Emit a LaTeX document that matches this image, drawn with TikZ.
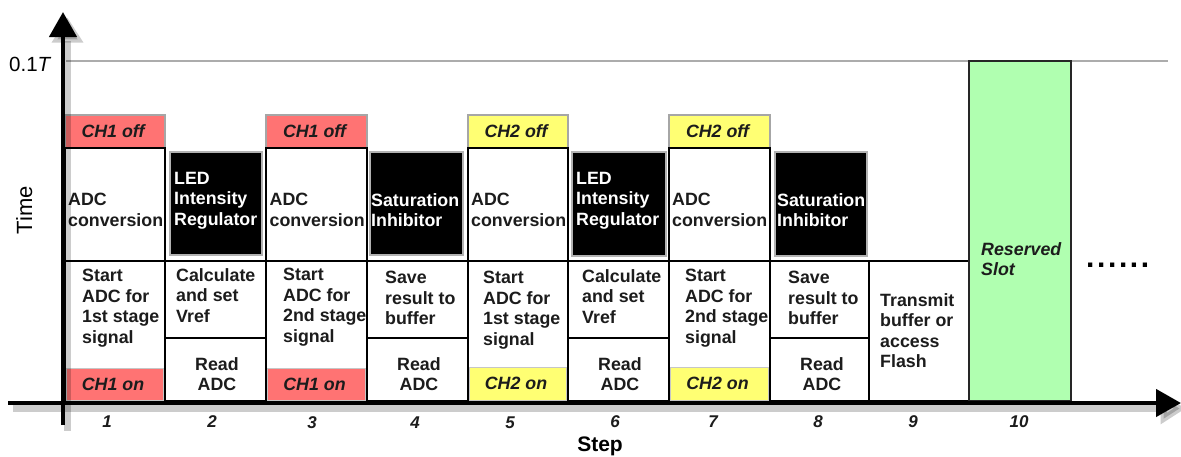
\documentclass[tikz,border=0pt]{standalone}
\usepackage{fontspec}
\setmainfont{Liberation Sans}
\usetikzlibrary{fit,arrows.meta}
\definecolor{chred}{RGB}{255,115,115}
\definecolor{chyel}{RGB}{255,255,115}
\definecolor{slotgreen}{RGB}{176,255,176}
\definecolor{txtgray}{RGB}{28,28,28}
\begin{document}
\begin{tikzpicture}[x=1pt,y=-1pt,
  cellbox/.style={draw=black, line width=2.8pt, fill=white, inner sep=0pt},
  offbox/.style={draw=gray!70, line width=1.5pt, inner sep=0pt},
  onbox/.style={draw=gray!45, line width=1pt, inner sep=0pt},
  blkbox/.style={draw=gray!60, fill=black, line width=1.5pt, inner sep=0pt},
  slotbox/.style={draw=black!85, fill=slotgreen, line width=2.5pt, inner sep=0pt},
  txt/.style={inner sep=0pt, align=left, text=txtgray, anchor=north west,
    font=\fontsize{17.8}{20.5}\selectfont\bfseries},
  wtxt/.style={txt, text=white},
  ctxt/.style={txt, align=center, anchor=north},
  chtxt/.style={inner sep=0pt, text=txtgray, font=\fontsize{17.8}{20.5}\selectfont\bfseries\itshape},
  steptxt/.style={inner sep=0pt, text=txtgray, font=\fontsize{17}{19}\selectfont\bfseries\itshape},
  axis/.style={line width=4.5pt, black, -{Triangle[length=25pt,width=27pt]}},
  axshadow/.style={line width=7pt, black, opacity=0.2, -{Triangle[length=25pt,width=30pt]}},
  tline/.style={line width=2.2pt, gray!65},
]
\useasboundingbox (0,0) rectangle (1181,456);

% 0.1T reference line
\coordinate (tl) at (66,61);
\coordinate (tr) at (1168,61);
\draw[tline] (tl) -- (tr);

% CH off boxes
\node[offbox, fill=chred, fit={(65,115) (165,148)}] (off1) {};
\node[offbox, fill=chred, fit={(266,115) (367,148)}] (off3) {};
\node[offbox, fill=chyel, fit={(468,115) (568,148)}] (off5) {};
\node[offbox, fill=chyel, fit={(669,115) (770,148)}] (off7) {};

% ADC conversion boxes
\node[cellbox, fit={(65,148) (165,261)}] (adc1) {};
\node[cellbox, fit={(266,148) (367,261)}] (adc3) {};
\node[cellbox, fit={(468,148) (568,261)}] (adc5) {};
\node[cellbox, fit={(669,148) (770,261)}] (adc7) {};

% Start ADC boxes
\node[cellbox, fit={(65,261) (165,401)}] (start1) {};
\node[cellbox, fit={(266,261) (367,401)}] (start3) {};
\node[cellbox, fit={(468,261) (568,401)}] (start5) {};
\node[cellbox, fit={(669,261) (770,401)}] (start7) {};

% CH on fills
\node[onbox, fill=chred, fit={(66.5,368) (163.5,400)}] (on1) {};
\node[onbox, fill=chred, fit={(267.5,368) (365.5,400)}] (on3) {};
\node[onbox, fill=chyel, fit={(469.5,367) (566.5,400)}] (on5) {};
\node[onbox, fill=chyel, fit={(670.5,367) (768.5,400)}] (on7) {};

% Calculate / Save boxes
\node[cellbox, fit={(165,261) (266,338)}] (calc2) {};
\node[cellbox, fit={(367,261) (468,338)}] (save4) {};
\node[cellbox, fit={(568,261) (669,338)}] (calc6) {};
\node[cellbox, fit={(770,261) (869,338)}] (save8) {};

% Read ADC boxes
\node[cellbox, fit={(165,338) (266,401)}] (read2) {};
\node[cellbox, fit={(367,338) (468,401)}] (read4) {};
\node[cellbox, fit={(568,338) (669,401)}] (read6) {};
\node[cellbox, fit={(770,338) (869,401)}] (read8) {};

% Transmit box
\node[cellbox, fit={(869,261) (969,401)}] (trans9) {};

% Black boxes
\node[blkbox, fit={(170,152) (262,255)}] (led2) {};
\node[blkbox, fit={(370,152) (463,255)}] (sat4) {};
\node[blkbox, fit={(572,152) (666,256)}] (led6) {};
\node[blkbox, fit={(775,152) (867,256)}] (sat8) {};

% Reserved slot
\node[slotbox, fit={(969,61) (1071,401)}] (slot10) {};

% Texts
\node[chtxt] (toff1) at ([xshift=-2pt]off1.center) {CH1 off};
\node[chtxt] (toff3) at ([xshift=-2pt]off3.center) {CH1 off};
\node[chtxt] (toff5) at ([xshift=-2pt]off5.center) {CH2 off};
\node[chtxt] (toff7) at ([xshift=-2pt]off7.center) {CH2 off};

\node[chtxt] (ton1) at ([xshift=-2pt]on1.center) {CH1 on};
\node[chtxt] (ton3) at ([xshift=-2pt]on3.center) {CH1 on};
\node[chtxt] (ton5) at ([xshift=-2pt]on5.center) {CH2 on};
\node[chtxt] (ton7) at ([xshift=-2pt]on7.center) {CH2 on};

\node[txt] (tadc1) at (68,193) {ADC\\conversion};
\node[txt] (tadc3) at (269.5,193) {ADC\\conversion};
\node[txt] (tadc5) at (471,193) {ADC\\conversion};
\node[txt] (tadc7) at (672,193) {ADC\\conversion};

\node[txt] (tstart1) at (82,269) {Start\\ADC for\\1st stage\\signal};
\node[txt] (tstart3) at (283,268) {Start\\ADC for\\2nd stage\\signal};
\node[txt] (tstart5) at (483,271) {Start\\ADC for\\1st stage\\signal};
\node[txt] (tstart7) at (685,269) {Start\\ADC for\\2nd stage\\signal};

\node[wtxt] (tled2) at (174,172) {LED\\Intensity\\Regulator};
\node[wtxt] (tsat4) at (371,193) {Saturation\\Inhibitor};
\node[wtxt] (tled6) at (576,172) {LED\\Intensity\\Regulator};
\node[wtxt] (tsat8) at (777,193) {Saturation\\Inhibitor};

\node[txt] (tcalc2) at (176,268) {Calculate\\and set\\Vref};
\node[txt] (tsave4) at (385,271) {Save\\result to\\buffer};
\node[txt] (tcalc6) at (582,269) {Calculate\\and set\\Vref};
\node[txt] (tsave8) at (788,271) {Save\\result to\\buffer};

\node[ctxt] (tread2) at (217,357) {Read\\ADC};
\node[ctxt] (tread4) at (419,357) {Read\\ADC};
\node[ctxt] (tread6) at (620,357) {Read\\ADC};
\node[ctxt] (tread8) at (822,357) {Read\\ADC};

\node[txt] (ttrans9) at (880,293) {Transmit\\buffer or\\access\\Flash};

\node[txt, font=\fontsize{17.8}{20.5}\selectfont\bfseries\itshape] (tslot) at (981,242) {Reserved\\Slot};

\node[inner sep=0pt, anchor=base west, text=black,
  font=\fontsize{30}{30}\selectfont\bfseries] (dots) at (1086,267)
  {.\kern2.6pt.\kern2.6pt.\kern2.6pt.\kern2.6pt.\kern2.6pt.};

% Axes shadows
\coordinate (ybot) at (63,425);
\coordinate (ytop) at (63,12);
\coordinate (xleft) at (8,403);
\coordinate (xright) at (1181,403);
\begin{scope}[transform canvas={shift={(4.5pt,-5.5pt)}}]
\draw[axshadow] (ybot) -- (ytop);
\draw[axshadow] (xleft) -- (xright);
\end{scope}

% Axes
\draw[axis] (ybot) -- (ytop);
\draw[axis] (xleft) -- (xright);

% Axis labels
\node[inner sep=0pt, anchor=base west, font=\fontsize{20.5}{22}\selectfont] (tick) at (9,71) {0.1\textit{T}};
\node[inner sep=0pt, anchor=base, rotate=90, font=\fontsize{22}{24}\selectfont] (ylab) at (32,210) {Time};
\node[inner sep=0pt, anchor=base, font=\fontsize{21}{24}\selectfont\bfseries] (xlab) at (600,451) {Step};

% Step numbers
\node[steptxt] (s1) at (107,422) {1};
\node[steptxt] (s2) at (212,422) {2};
\node[steptxt] (s3) at (312,423) {3};
\node[steptxt] (s4) at (415,423) {4};
\node[steptxt] (s5) at (510,423) {5};
\node[steptxt] (s6) at (615,422) {6};
\node[steptxt] (s7) at (713,422) {7};
\node[steptxt] (s8) at (818,422) {8};
\node[steptxt] (s9) at (913,422) {9};
\node[steptxt] (s10) at (1019,422) {10};
\end{tikzpicture}
\end{document}
